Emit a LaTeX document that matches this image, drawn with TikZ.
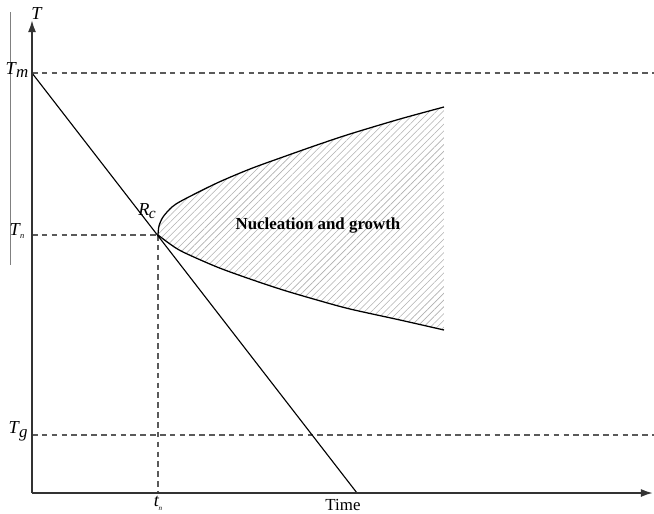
\documentclass[tikz,border=0pt]{standalone}
\usepackage{fontspec}
\setmainfont{Liberation Serif}
\usetikzlibrary{arrows.meta,patterns.meta}
\definecolor{axisgray}{HTML}{333333}
\definecolor{dashgray}{HTML}{5A5A5A}
\definecolor{hatchgray}{HTML}{B0B0B0}
\tikzset{
  axisline/.style={axisgray,line width=1.4pt,-{Latex[length=3mm,width=2mm]}},
  guide/.style={dashgray,dash pattern=on 4pt off 3pt,line width=0.75pt},
  lbl/.style={inner sep=0pt,font=\fontsize{13}{15}\selectfont},
}
\newcommand{\sublbl}[3]{\textit{#1}\kern-0.5pt\raisebox{-0.45ex}{\fontsize{#3}{#3}\selectfont\textit{#2}}}

\begin{document}
\begin{tikzpicture}[x=0.025cm,y=-0.025cm]
    \useasboundingbox (0,0) rectangle (654,514);
    % key points
    \coordinate (O) at (32,493);
    \coordinate (ytop) at (32,20);
    \coordinate (xend) at (653,493);
    \coordinate (Tm) at (32,73);
    \coordinate (Tmr) at (654,73);
    \coordinate (Tn) at (32,235);
    \coordinate (nose) at (158,235);
    \coordinate (tn) at (158,493);
    \coordinate (Tg) at (32,435);
    \coordinate (Tgr) at (654,435);
    \coordinate (cend) at (357,493);
    \coordinate (bartop) at (10,12);
    \coordinate (barbot) at (10,265);
    % hatched region
    \fill[pattern={Lines[angle=45,distance=3.4pt,line width=0.4pt]},pattern color=hatchgray]
      plot[smooth] coordinates {
        (158,235) (159,226) (163,217) (172,207) (183,200) (217,183) (250,169) (283,157) (317,145) (350,134) (400,119) (444,107)
      } -- (444,330) --
      plot[smooth] coordinates {
        (444,330) (400,320) (350,309) (317,300) (283,290) (250,279) (217,267) (183,252) (170,244) (158,235)
      } -- cycle;
    % dashed guides
    \draw[guide] (Tm) -- (Tmr);
    \draw[guide] (Tg) -- (Tgr);
    \draw[guide] (Tn) -- (nose);
    \draw[guide] (nose) -- (tn);
    % C curve
    \draw[line width=0.9pt]
      plot[smooth] coordinates {
        (158,235) (159,226) (163,217) (172,207) (183,200) (217,183) (250,169) (283,157) (317,145) (350,134) (400,119) (444,107)
      };
    \draw[line width=0.9pt]
      plot[smooth] coordinates {
        (158,235) (170,244) (183,252) (217,267) (250,279) (283,290) (317,300) (350,309) (400,320) (444,330)
      };
    % cooling line
    \draw[line width=0.8pt] (Tm) -- (cend);
    % axes
    \draw[gray,line width=0.6pt] (bartop) -- (barbot);
    \draw[axisline] (O) -- (ytop);
    \draw[axisline] (O) -- (xend);
    % labels
    \node[lbl] (Tlbl) at (37,14) {\textit{T}};
    \node[lbl] (Tmlbl) at (17,70) {\sublbl{T}{m}{12}};
    \node[lbl] (Tnlbl) at (17,231) {\sublbl{T}{n}{6}};
    \node[lbl] (Tglbl) at (18,431) {\sublbl{T}{g}{12}};
    \node[lbl] (Rclbl) at (147,211) {\sublbl{R}{c}{11}};
    \node[lbl] (tnlbl) at (158,503) {\sublbl{t}{n}{5}};
    \node[lbl,font=\fontsize{12}{14}\selectfont] (timelbl) at (343,505) {Time};
    \node[lbl,font=\fontsize{12}{14}\selectfont\bfseries] (region) at (318,226) {Nucleation and growth};
  \end{tikzpicture}
\end{document}
